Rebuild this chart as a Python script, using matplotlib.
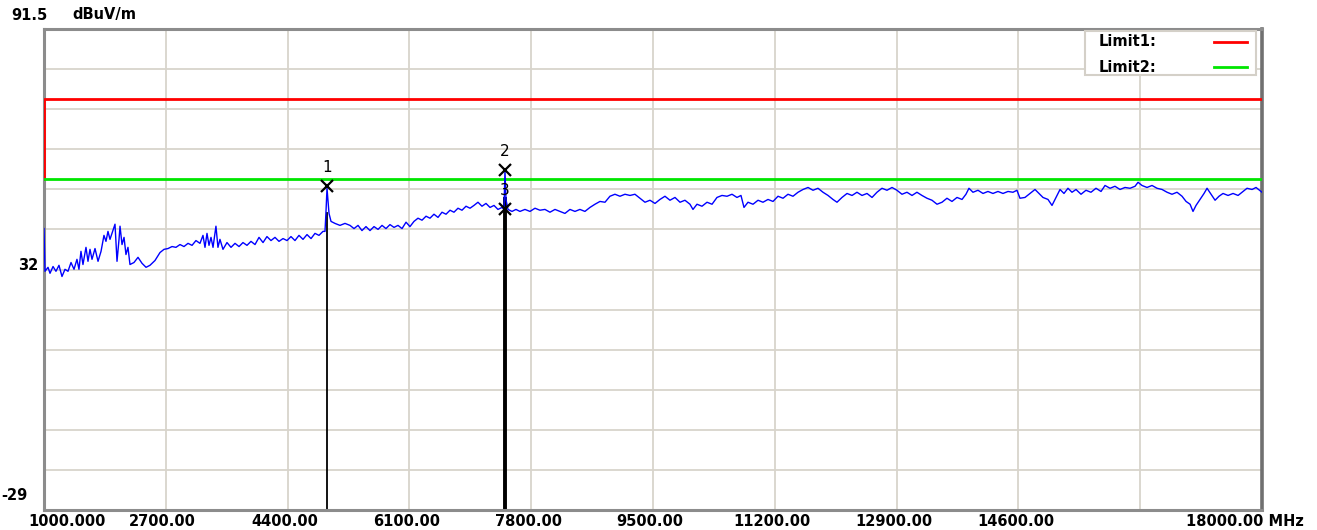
import matplotlib
matplotlib.use("Agg")
import matplotlib.pyplot as plt
from matplotlib.patches import Rectangle

# ---------------- data ----------------
freq_mhz = [
    1000, 1014, 1056, 1084, 1126, 1167, 1209, 1251, 1293, 1335, 1377, 1419, 1460, 1488, 1516, 1544,
    1586, 1614, 1642, 1670, 1712, 1754, 1796, 1837, 1865, 1893, 1921, 1949, 1991, 2019, 2047, 2061,
    2089, 2117, 2144, 2172, 2200, 2256, 2312, 2368, 2424, 2479, 2549, 2619, 2675, 2731, 2787, 2842,
    2898, 2954, 3010, 3066, 3121, 3177, 3219, 3247, 3275, 3303, 3331, 3359, 3400, 3428, 3456, 3498,
    3554, 3610, 3666, 3722, 3777, 3833, 3889, 3945, 4001, 4057, 4112, 4168, 4224, 4280, 4336, 4392,
    4447, 4503, 4559, 4615, 4671, 4727, 4782, 4838, 4894, 4922, 4936, 4950, 4978, 5006, 5061, 5131,
    5201, 5271, 5327, 5383, 5438, 5494, 5550, 5606, 5662, 5718, 5773, 5829, 5885, 5941, 5997, 6053,
    6108, 6164, 6220, 6276, 6332, 6387, 6443, 6499, 6555, 6611, 6667, 6722, 6778, 6834, 6890, 6946,
    7001, 7057, 7113, 7169, 7225, 7281, 7336, 7392, 7420, 7434, 7448, 7476, 7532, 7587, 7643, 7713,
    7783, 7853, 7922, 7992, 8062, 8132, 8202, 8271, 8341, 8411, 8480, 8550, 8620, 8690, 8760, 8830,
    8899, 8969, 9039, 9109, 9179, 9248, 9318, 9388, 9458, 9528, 9597, 9667, 9737, 9807, 9877, 9946,
    10016, 10058, 10114, 10184, 10254, 10324, 10393, 10463, 10533, 10603, 10672, 10728, 10770, 10826,
    10896, 10966, 11035, 11105, 11175, 11245, 11315, 11384, 11454, 11524, 11594, 11664, 11733, 11803,
    11873, 11943, 12012, 12068, 12138, 12208, 12278, 12347, 12417, 12487, 12557, 12626, 12696, 12766,
    12836, 12905, 12975, 13045, 13115, 13184, 13254, 13324, 13394, 13464, 13534, 13603, 13673, 13743,
    13813, 13868, 13910, 13966, 14036, 14106, 14175, 14245, 14315, 14385, 14455, 14524, 14580, 14622,
    14692, 14762, 14832, 14887, 14943, 15013, 15069, 15125, 15181, 15236, 15292, 15348, 15404, 15474,
    15543, 15613, 15683, 15753, 15809, 15879, 15948, 16018, 16088, 16158, 16228, 16270, 16325, 16395,
    16465, 16535, 16605, 16675, 16744, 16814, 16884, 16940, 16996, 17037, 17079, 17135, 17191, 17233,
    17289, 17345, 17400, 17456, 17526, 17596, 17666, 17735, 17791, 17861, 17917, 18000,
]
level_dbuv = [
    41.5, 30.8, 31.8, 30.3, 32.0, 30.8, 32.3, 29.5, 31.3, 30.8, 33.0, 31.3, 33.8, 31.3, 35.8, 32.5,
    36.8, 33.3, 36.3, 33.8, 36.5, 33.3, 35.8, 39.8, 38.3, 40.8, 38.8, 40.3, 42.6, 33.3, 38.8, 42.1,
    37.5, 39.3, 35.0, 36.8, 32.5, 33.0, 34.3, 32.8, 31.8, 32.3, 33.5, 35.5, 36.3, 36.5, 37.0, 36.8,
    37.5, 37.0, 37.8, 37.3, 38.5, 37.8, 39.8, 36.8, 40.3, 37.3, 39.3, 36.8, 42.1, 36.8, 38.8, 36.3,
    38.0, 36.8, 37.8, 37.0, 38.0, 37.3, 38.3, 37.5, 39.3, 38.0, 39.5, 38.5, 39.3, 38.3, 39.0, 38.5,
    39.5, 38.5, 39.8, 38.8, 40.0, 39.0, 40.3, 39.8, 40.8, 40.8, 45.8, 51.6, 45.3, 43.3, 42.8, 42.3,
    42.8, 42.3, 41.5, 42.3, 41.0, 42.0, 41.0, 42.0, 41.3, 42.3, 41.5, 42.5, 41.8, 42.3, 41.5, 43.1,
    42.0, 43.3, 44.1, 43.6, 44.6, 44.1, 45.1, 44.3, 45.6, 45.1, 46.1, 45.6, 46.6, 46.1, 47.1, 46.6,
    47.3, 48.1, 47.1, 47.8, 46.8, 47.3, 46.3, 46.8, 46.3, 55.9, 48.8, 46.3, 45.8, 46.3, 45.8, 46.3,
    45.8, 46.6, 46.1, 46.3, 45.6, 46.3, 45.8, 45.3, 46.3, 45.8, 46.3, 45.8, 46.8, 47.6, 48.3, 48.1,
    49.6, 50.1, 49.6, 50.1, 49.8, 50.1, 49.1, 48.1, 48.6, 47.8, 48.8, 49.6, 48.6, 49.3, 48.1, 48.6,
    47.6, 46.3, 47.6, 47.1, 48.1, 47.6, 49.3, 49.8, 49.6, 50.1, 49.3, 49.8, 46.8, 48.1,
    47.6, 48.6, 48.1, 48.8, 48.3, 49.6, 49.1, 50.1, 49.6, 50.6, 51.3, 51.8, 51.1, 51.6,
    50.6, 49.8, 48.8, 48.1, 49.3, 50.3, 49.8, 50.6, 49.8, 50.3, 49.3, 50.6, 51.6, 51.1,
    51.8, 51.1, 50.1, 50.6, 49.8, 50.6, 49.8, 49.1, 48.6, 47.6, 48.1, 49.1, 48.3, 49.3,
    48.8, 50.1, 51.6, 50.6, 51.1, 50.3, 50.8, 50.3, 50.8, 50.3, 50.8, 50.6, 51.1, 49.1,
    49.3, 50.3, 51.3, 50.3, 49.3, 48.8, 47.3, 49.3, 51.3, 50.3, 51.6, 50.6, 51.3, 50.1,
    51.1, 50.6, 51.6, 50.8, 52.3, 51.6, 52.1, 51.3, 51.8, 51.6, 52.1, 53.1, 52.3, 51.8,
    52.3, 51.6, 51.3, 50.6, 50.1, 50.6, 49.6, 48.3, 47.6, 45.8, 47.3, 48.8, 50.3, 51.6,
    50.1, 48.6, 49.6, 50.3, 49.8, 50.3, 49.8, 50.8, 51.6, 51.3, 51.8, 50.6,
]

limit1_db = 74.0
limit2_db = 54.0

marker_labels = ["1", "2", "3"]
marker_freqs = [4950, 7434, 7434]
marker_levels = [52.1, 56.1, 46.3]

x_min, x_max = 1000.0, 18000.0
y_min, y_max = -29.0, 91.5
x_tick_labels = ["1000.000", "2700.00", "4400.00", "6100.00", "7800.00", "9500.00",
                 "11200.00", "12900.00", "14600.00", "", "18000.00 MHz"]
y_unit = "dBuV/m"

# ---------------- figure ----------------
W, H = 1317, 530
fig = plt.figure(figsize=(W / 100, H / 100), dpi=100)
L, R, T, B = 44, 1262, 29, 510
ax = fig.add_axes([L / W, 1 - B / H, (R - L) / W, (B - T) / H])
ax.set_xlim(x_min, x_max)
ax.set_ylim(y_min, y_max)

grid_col = "#d8d4cc"
ndx = 10
ndy = 12
xt = [x_min + i * (x_max - x_min) / ndx for i in range(ndx + 1)]
yt = [y_min + i * (y_max - y_min) / ndy for i in range(ndy + 1)]
ax.set_xticks(xt)
ax.set_yticks(yt)
ax.tick_params(length=0, labelbottom=False, labelleft=False)
ax.grid(True, color=grid_col, lw=1.3)
ax.set_axisbelow(True)

for side in ["left", "top", "bottom"]:
    ax.spines[side].set_color("#8c8c8c")
    ax.spines[side].set_linewidth(2.2)
ax.spines["right"].set_color("#707070")
ax.spines["right"].set_linewidth(2.6)

# limits
ax.plot([x_min, x_min, x_max], [limit2_db, limit1_db, limit1_db], color="#ff0000", lw=2, zorder=3)
ax.plot([x_min, x_max], [limit2_db, limit2_db], color="#00e600", lw=2, zorder=3)

# marker drop lines
ax.plot([marker_freqs[0], marker_freqs[0]], [y_min, 45.5], color="black", lw=1.3, zorder=2)
ax.plot([marker_freqs[1], marker_freqs[1]], [y_min, 49.0], color="black", lw=2.8, zorder=2)

# trace
ax.plot(freq_mhz, level_dbuv, color="#0000ff", lw=1.0, zorder=4)

# markers
for lab, f, v in zip(marker_labels, marker_freqs, marker_levels):
    ax.plot([f], [v], marker="x", color="black", ms=8, mew=1.6, zorder=5)
    ax.annotate(lab, (f, v), xytext=(0, 8), textcoords="offset points",
                ha="center", va="bottom", fontsize=11, color="black", zorder=6)

# legend box
ax.add_patch(Rectangle((0.855, 0.905), 0.140, 0.091, transform=ax.transAxes,
                       facecolor="white", edgecolor="#d4d0c8", lw=1.5, zorder=6))
fb = dict(fontsize=10.5, fontweight="bold", family="DejaVu Sans", color="black")
ax.text(0.866, 0.974, "Limit1:", transform=ax.transAxes, va="center", ha="left", zorder=7, **fb)
ax.text(0.866, 0.920, "Limit2:", transform=ax.transAxes, va="center", ha="left", zorder=7, **fb)
ax.plot([0.961, 0.988], [0.974, 0.974], transform=ax.transAxes, color="#ff0000", lw=2, zorder=7)
ax.plot([0.961, 0.988], [0.920, 0.920], transform=ax.transAxes, color="#00e600", lw=2, zorder=7)

# axis texts
ft = dict(fontsize=10.5, fontweight="bold", family="DejaVu Sans", color="black")
fig.text(48 / W, 1 - 15 / H, f"{y_max:g}", ha="right", va="center", **ft)
fig.text(72 / W, 1 - 15 / H, y_unit, ha="left", va="center", **ft)
fig.text(38 / W, 1 - 266 / H, "32", ha="right", va="center", **ft)
fig.text(28 / W, 1 - 496 / H, f"{y_min:g}", ha="right", va="center", **ft)

for i, lab in enumerate(x_tick_labels):
    if not lab:
        continue
    if i == 0:
        fig.text(28 / W, 1 - 521 / H, lab, ha="left", va="center", **ft)
    elif i == len(x_tick_labels) - 1:
        fig.text(1304 / W, 1 - 521 / H, lab, ha="right", va="center", **ft)
    else:
        xpix = L + (xt[i] - x_min) / (x_max - x_min) * (R - L) - 3
        fig.text(xpix / W, 1 - 521 / H, lab, ha="center", va="center", **ft)

fig.savefig("out.png", dpi=100, facecolor="white")
